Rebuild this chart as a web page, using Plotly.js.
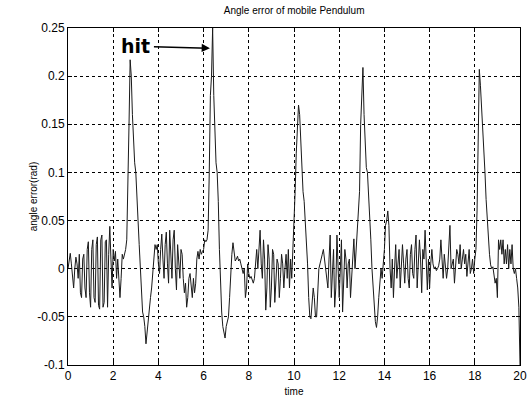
<!DOCTYPE html>
<html>
<head>
<meta charset="utf-8">
<script src="https://cdn.plot.ly/plotly-3.0.1.min.js"></script>
<style>html,body{margin:0;padding:0;background:#fff;}#chart{width:530px;height:397px;}</style>
</head>
<body>
<div id="chart"></div>
<script>
// sample spacing of the recorded signal (s)
const timeStart = 0;
const timeStep = 0.05;

// angle error (rad), one row per second of time, 20 samples per row
const angleError = [
  0.0, 0.012, 0.016, 0.005, -0.01, -0.02, 0.0, 0.012, 0.005, -0.01, 0.015, -0.025, -0.03, 0.01, 0.015, -0.02, -0.03, 0.02, 0.028, -0.025,
  -0.04, 0.02, 0.03, -0.03, -0.035, 0.025, 0.033, -0.038, -0.042, 0.03, 0.035, -0.04, -0.035, 0.028, 0.03, -0.04, 0.015, 0.044, 0.01, -0.02,
  0.02, 0.008, 0.018, -0.01, 0.01, -0.015, -0.03, -0.01, 0.015, 0.01, 0.015, 0.02, 0.03, 0.08, 0.15, 0.217, 0.2, 0.16, 0.13, 0.11,
  0.1, 0.08, 0.05, 0.025, 0.005, -0.02, -0.045, -0.05, -0.06, -0.078, -0.065, -0.05, -0.04, -0.03, -0.02, -0.005, 0.005, 0.025, 0.02, 0.025,
  0.005, -0.005, 0.02, 0.036, 0.01, -0.01, 0.025, 0.038, 0.005, -0.015, 0.04, 0.02, -0.01, 0.03, 0.04, 0.0, -0.022, 0.025, 0.01, -0.01,
  0.02, 0.015, -0.01, -0.025, -0.015, -0.04, -0.03, -0.01, -0.005, -0.02, -0.03, -0.01, -0.025, -0.015, 0.01, 0.018, 0.01, 0.02, 0.015, 0.018,
  0.02, 0.03, 0.028, 0.03, 0.04, 0.1, 0.18, 0.2, 0.25, 0.18, 0.13, 0.11, 0.1, 0.07, 0.02, -0.02, -0.045, -0.06, -0.065, -0.072,
  -0.06, -0.055, -0.05, -0.03, 0.0, 0.015, 0.027, 0.015, 0.008, 0.01, 0.013, 0.008, 0.01, 0.005, 0.0, -0.005, 0.0, -0.03, -0.02, 0.005,
  -0.005, -0.01, -0.008, -0.012, -0.015, -0.01, 0.01, 0.02, 0.0, 0.02, 0.04, 0.005, -0.01, 0.03, 0.01, -0.043, -0.02, 0.025, 0.01, -0.04,
  -0.02, 0.02, 0.015, -0.035, -0.01, 0.01, 0.005, -0.03, -0.01, 0.015, 0.005, -0.02, 0.0, 0.015, -0.01, 0.02, -0.02, 0.01, -0.01, 0.02,
  0.04, 0.08, 0.12, 0.14, 0.17, 0.16, 0.13, 0.1, 0.08, 0.07, 0.05, 0.02, 0.005, -0.03, -0.05, -0.052, -0.03, -0.02, -0.03, -0.05,
  -0.05, -0.03, 0.0, 0.005, 0.012, 0.015, 0.02, 0.01, 0.005, -0.01, -0.02, 0.01, 0.035, -0.03, -0.01, 0.02, -0.04, -0.02, 0.035, 0.01,
  -0.03, 0.0, 0.03, -0.045, -0.02, 0.02, 0.01, -0.02, 0.005, 0.01, -0.03, -0.01, 0.02, 0.031, 0.0, 0.02, 0.03, 0.05, 0.08, 0.15,
  0.19, 0.209, 0.16, 0.12, 0.105, 0.1, 0.08, 0.06, 0.03, 0.0, -0.02, -0.04, -0.055, -0.061, -0.05, -0.03, -0.01, 0.0, -0.01, 0.005,
  0.02, 0.045, 0.05, 0.06, 0.045, 0.0, -0.02, 0.01, -0.03, 0.0, 0.025, -0.01, 0.005, 0.02, -0.02, 0.0, 0.025, 0.005, -0.015, 0.01,
  0.02, -0.01, -0.02, 0.015, 0.025, -0.005, -0.01, 0.02, 0.035, -0.02, 0.0, 0.03, 0.01, -0.025, 0.02, 0.01, 0.04, 0.01, -0.022, 0.01,
  -0.02, 0.005, 0.02, 0.005, 0.0, 0.002, -0.002, 0.0, 0.003, 0.01, 0.03, 0.01, -0.01, 0.015, 0.005, -0.01, 0.0, 0.02, 0.045, 0.0,
  0.005, 0.01, -0.015, 0.01, 0.02, 0.015, 0.005, 0.025, 0.0, 0.01, 0.02, 0.005, 0.015, -0.008, 0.005, 0.02, -0.005, 0.0, 0.01, -0.005,
  0.01, 0.02, 0.06, 0.14, 0.207, 0.19, 0.17, 0.15, 0.13, 0.1, 0.072, 0.05, 0.03, 0.015, 0.004, 0.0, 0.002, -0.01, -0.015, -0.01,
  -0.03, 0.03, 0.02, 0.03, 0.015, 0.03, 0.005, 0.02, 0.005, 0.025, 0.0, 0.02, 0.005, 0.025, 0.0, -0.005, 0.0, -0.01, -0.02, -0.04,
  -0.1
];

const xTickVals = [0, 2, 4, 6, 8, 10, 12, 14, 16, 18, 20];
const xTickText = ['0', '2', '4', '6', '8', '10', '12', '14', '16', '18', '20'];
const yTickVals = [-0.1, -0.05, 0, 0.05, 0.1, 0.15, 0.2, 0.25];
const yTickText = ['-0.1', '-0.05', '0', '0.05', '0.1', '0.15', '0.2', '0.25'];

const hitLabel = 'hit';
const hitPoint = [6.28, 0.229];

const trace = {
  type: 'scatter',
  mode: 'lines',
  x0: timeStart,
  dx: timeStep,
  y: angleError,
  line: {color: '#1a1a1a', width: 1},
  hoverinfo: 'skip'
};

const axisCommon = {
  automargin: false,
  showline: true,
  linecolor: '#000',
  linewidth: 1,
  mirror: 'ticks',
  ticks: 'inside',
  ticklen: 4,
  tickcolor: '#000',
  showgrid: true,
  gridcolor: '#000',
  gridwidth: 1,
  griddash: 'dot',
  zeroline: false,
  tickfont: {family: 'Liberation Sans, Arial, sans-serif', size: 12, color: '#000'}
};

const layout = {
  width: 530,
  height: 397,
  autosize: false,
  margin: {l: 68, r: 10, t: 28, b: 32, pad: 0},
  paper_bgcolor: '#fff',
  plot_bgcolor: '#fff',
  showlegend: false,
  title: {
    text: 'Angle error of mobile Pendulum',
    font: {family: 'Liberation Sans, Arial, sans-serif', size: 10, color: '#000'},
    x: 0.555, xanchor: 'center'
  },
  xaxis: Object.assign({}, axisCommon, {
    range: [0, 20],
    tickmode: 'array', tickvals: xTickVals, ticktext: xTickText,
    title: {text: 'time', font: {family: 'Liberation Sans, Arial, sans-serif', size: 10, color: '#000'}}
  }),
  yaxis: Object.assign({}, axisCommon, {
    range: [-0.1, 0.25],
    tickmode: 'array', tickvals: yTickVals, ticktext: yTickText,
    title: {text: 'angle error(rad)', font: {family: 'Liberation Sans, Arial, sans-serif', size: 10, color: '#000'}}
  }),
  annotations: [{
    x: hitPoint[0], y: hitPoint[1], xref: 'x', yref: 'y',
    ax: -74, ay: -2,
    text: '<b>' + hitLabel + '</b>',
    font: {family: 'DejaVu Sans, Liberation Sans, sans-serif', size: 19, color: '#000'},
    showarrow: true, arrowhead: 2, arrowsize: 1.1, arrowwidth: 1.5, arrowcolor: '#000',
    standoff: 0, startstandoff: 2
  }]
};

Plotly.newPlot('chart', [trace], layout, {staticPlot: true, displayModeBar: false});
</script>
</body>
</html>
